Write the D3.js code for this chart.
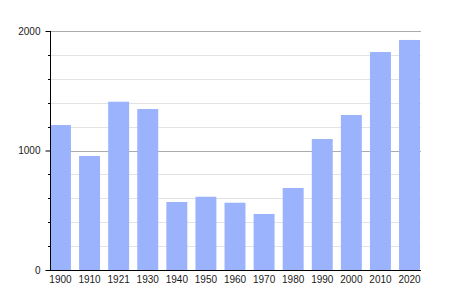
<!DOCTYPE html>
<html><head><meta charset="utf-8">
<script src="https://cdn.jsdelivr.net/npm/d3@7"></script>
<style>body{margin:0;background:#fff}svg{display:block}</style>
</head><body>
<svg id="c" width="450" height="300"></svg>
<script>
const years = ["1900","1910","1921","1930","1940","1950","1960","1970","1980","1990","2000","2010","2020"];
const population = [1213,954,1408,1347,569,613,563,469,686,1096,1297,1824,1925];
const majorTicks = [0,1000,2000];
const minorTicks = [200,400,600,800,1200,1400,1600,1800];

const svg = d3.select("#c");
const mLeft = 50, mRight = 420, mTop = 31, mBottom = 270;
const x = d3.scaleBand().domain(years).range([mLeft, mRight]).paddingInner(0.28).paddingOuter(0);
const y = d3.scaleLinear().domain([0, 2000]).range([mBottom, mTop]);
const font = "'Liberation Sans', Arial, sans-serif";

// minor grid
svg.append("g").selectAll("line").data(minorTicks).join("line")
  .attr("x1", mLeft).attr("x2", mRight + 1)
  .attr("y1", d => Math.round(y(d)) + 0.5).attr("y2", d => Math.round(y(d)) + 0.5)
  .attr("stroke", "#e3e3e3").attr("stroke-width", 1);
// major grid
svg.append("g").selectAll("line").data(majorTicks.filter(d => d > 0)).join("line")
  .attr("x1", mLeft).attr("x2", mRight + 1)
  .attr("y1", d => Math.round(y(d)) + 0.5).attr("y2", d => Math.round(y(d)) + 0.5)
  .attr("stroke", "#ababab").attr("stroke-width", 1);

// bars
svg.append("g").selectAll("rect").data(population).join("rect")
  .attr("x", (d, i) => x(years[i]))
  .attr("width", x.bandwidth())
  .attr("y", d => y(d))
  .attr("height", d => mBottom - y(d))
  .attr("fill", "#9bb3fc");

// y axis
const ya = svg.append("g").attr("transform", `translate(${mLeft + 0.5},0)`);
ya.call(d3.axisLeft(y).tickValues(majorTicks).tickSize(5).tickPadding(5).tickFormat(d3.format("d")));
ya.select(".domain").remove();
ya.selectAll("line").attr("stroke", "#000");
ya.selectAll("text").attr("font-family", font).attr("font-size", 10).attr("fill", "#1a1a1a");
ya.append("line").attr("x1", 0).attr("x2", 0).attr("y1", mTop).attr("y2", mBottom).attr("stroke", "#000");
ya.selectAll(".minor").data(minorTicks).join("line").attr("class", "minor")
  .attr("x1", -2.5).attr("x2", 0)
  .attr("y1", d => Math.round(y(d)) + 0.5).attr("y2", d => Math.round(y(d)) + 0.5)
  .attr("stroke", "#000");

// x axis
const xa = svg.append("g").attr("transform", `translate(0,${mBottom + 0.5})`);
xa.call(d3.axisBottom(x).tickSize(0).tickPadding(5.5));
xa.select(".domain").attr("d", `M${mLeft},0H${mRight + 1}`).attr("stroke", "#000");
xa.selectAll("text").attr("font-family", font).attr("font-size", 10).attr("fill", "#1a1a1a");
</script>
</body></html>
